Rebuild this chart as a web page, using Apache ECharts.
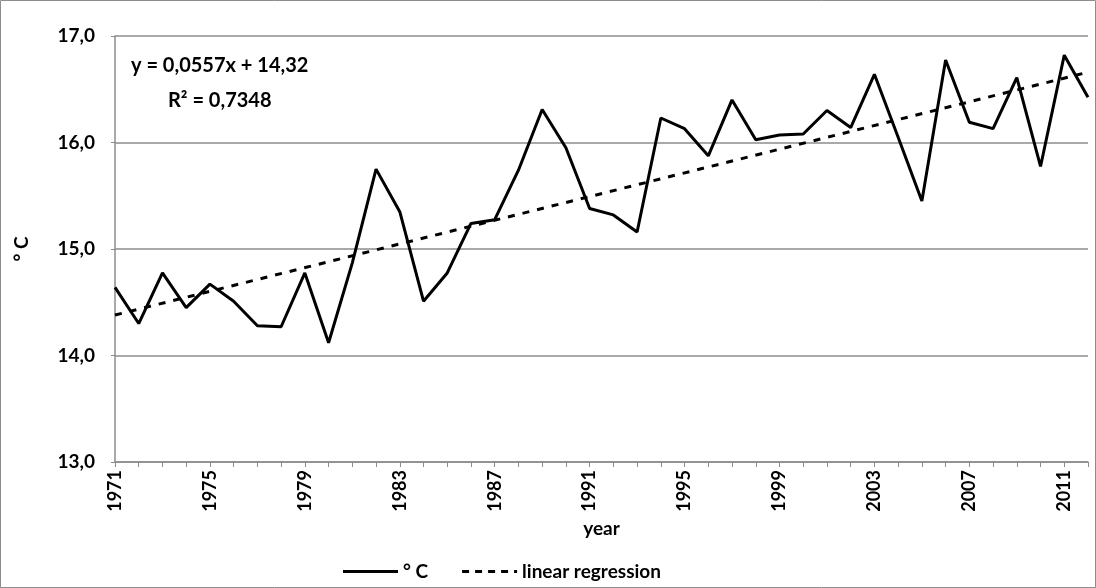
<!DOCTYPE html>
<html><head><meta charset="utf-8">
<script src="https://cdn.jsdelivr.net/npm/echarts@6/dist/echarts.min.js"></script>
<style>html,body{margin:0;padding:0;background:#fff}#c{width:1096px;height:588px}</style>
</head><body><div id="c"></div>
<script>
const years = [];
for (let y = 1971; y <= 2012; y++) years.push(String(y));
const temps = [14.64,14.30,14.775,14.45,14.67,14.51,14.28,14.27,14.775,14.12,
  14.87,15.75,15.35,14.51,14.775,15.24,15.275,15.74,16.31,15.95,
  15.38,15.32,15.16,16.23,16.13,15.875,16.40,16.025,16.07,16.08,
  16.30,16.14,16.64,16.05,15.45,16.775,16.19,16.13,16.61,15.775,
  16.82,16.425];
const trendStart = 14.38, trendEnd = 16.66;
const trend = years.map((_, i) => i === 0 ? trendStart : (i === years.length - 1 ? trendEnd : null));
const yTicks = [13, 14, 15, 16, 17];
const eqText = 'y = 0,0557x + 14,32';
const r2Text = 'R² = 0,7348';

const FONT = 'Lato, "Open Sans", sans-serif';
const solidIcon = 'path://M0,0H55V3H0Z';
const dashIcon = 'path://M0,0H7V3H0Z M13,0H20V3H13Z M26,0H33V3H26Z M39,0H46V3H39Z M52,0H55V3H52Z';
const chart = echarts.init(document.getElementById('c'));
chart.setOption({
  animation: false,
  backgroundColor: '#fff',
  grid: {left: 115, right: 8, top: 36, bottom: 126, containLabel: false},
  xAxis: {
    type: 'category', data: years, boundaryGap: false,
    name: 'year', nameLocation: 'middle', nameGap: 44,
    nameTextStyle: {fontFamily: FONT, fontWeight: 'bold', fontSize: 19, color: '#000'},
    axisLine: {lineStyle: {color: '#8c8c8c', width: 1.5}},
    axisTick: {show: true, interval: 0, length: 5, lineStyle: {color: '#8c8c8c'}},
    axisLabel: {interval: 3, rotate: 90, fontFamily: FONT, fontWeight: 'bold', fontSize: 18, color: '#000', margin: 8},
    splitLine: {show: false}
  },
  yAxis: {
    type: 'value', min: 13, max: 17, interval: 1,
    name: '° C', nameLocation: 'middle', nameGap: 84, nameRotate: 90,
    nameTextStyle: {fontFamily: FONT, fontWeight: 'bold', fontSize: 19, color: '#000'},
    axisLine: {show: true, lineStyle: {color: '#8c8c8c', width: 1.5}},
    axisTick: {show: true, length: 4, lineStyle: {color: '#8c8c8c'}},
    axisLabel: {fontFamily: FONT, fontWeight: 'bold', fontSize: 19, color: '#000', margin: 20,
      formatter: v => yTicks.includes(v) ? v.toFixed(1).replace('.', ',') : ''},
    splitLine: {lineStyle: {color: '#8c8c8c', width: 1.5}}
  },
  legend: {
    bottom: 2, left: 338, itemWidth: 55, itemHeight: 3, itemGap: 34,
    itemStyle: {borderWidth: 0},
    lineStyle: {width: 0},
    textStyle: {fontFamily: FONT, fontWeight: 'bold', fontSize: 19, color: '#000'},
    data: [{name: '° C', icon: solidIcon}, {name: 'linear regression', icon: dashIcon}]
  },
  series: [
    {name: '° C', type: 'line', data: temps, symbol: 'none',
     lineStyle: {color: '#000', width: 3}, itemStyle: {color: '#000'}},
    {name: 'linear regression', type: 'line', data: trend, symbol: 'none', connectNulls: true,
     lineStyle: {color: '#000', width: 3, type: [7, 8]}, itemStyle: {color: '#000'}}
  ],
  graphic: [
    {type: 'rect', shape: {x: 0.5, y: 0.5, width: 1095, height: 587},
     style: {fill: null, stroke: '#8c8c8c', lineWidth: 1}, silent: true},
    {type: 'text', left: 131, top: 56, style: {text: eqText, font: 'bold 20px ' + FONT, fill: '#000'}},
    {type: 'text', left: 168, top: 91, style: {text: r2Text, font: 'bold 20px ' + FONT, fill: '#000'}}
  ]
});
</script></body></html>
